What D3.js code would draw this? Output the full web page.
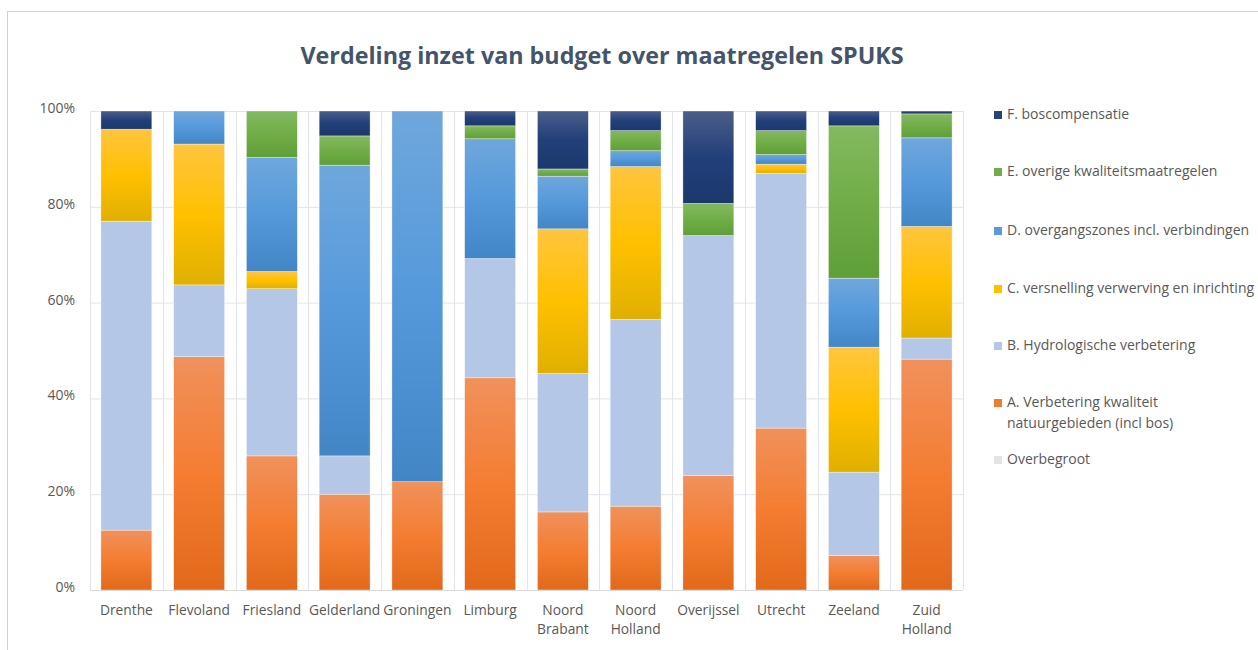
<!DOCTYPE html>
<html>
<head>
<meta charset="utf-8">
<script src="https://cdn.jsdelivr.net/npm/d3@7"></script>
<style>
  body { margin: 0; background: #fff; }
  svg text { font-family: "Open Sans", "Noto Sans", sans-serif; }
</style>
</head>
<body>
<svg id="chart" width="1258" height="650"></svg>
<script>
const categories = ["Drenthe", "Flevoland", "Friesland", "Gelderland", "Groningen", "Limburg",
  "Noord Brabant", "Noord Holland", "Overijssel", "Utrecht", "Zeeland", "Zuid Holland"];
const seriesKeys = ["A", "B", "C", "D", "E", "F", "O"];
const seriesLabels = {
  A: "A. Verbetering kwaliteit natuurgebieden (incl bos)",
  B: "B. Hydrologische verbetering",
  C: "C. versnelling verwerving en inrichting",
  D: "D. overgangszones incl. verbindingen",
  E: "E. overige kwaliteitsmaatregelen",
  F: "F. boscompensatie",
  O: "Overbegroot"
};
// percentages
const seriesA = [12.5, 48.7, 28.0, 20.0, 22.6, 44.3, 16.3, 17.5, 23.9, 33.8, 7.2, 48.2];
const seriesB = [64.5, 15.0, 34.9, 8.0, 0, 24.9, 28.9, 39.0, 50.1, 53.2, 17.4, 4.4];
const seriesC = [19.2, 29.4, 3.6, 0, 0, 0, 30.2, 31.9, 0, 1.9, 26.1, 23.3];
const seriesD = [0, 6.9, 23.8, 60.7, 77.4, 25.0, 11.0, 3.3, 0, 2.0, 14.4, 18.5];
const seriesE = [0, 0, 9.7, 6.1, 0, 2.7, 1.5, 4.2, 6.7, 5.0, 31.8, 5.0];
const seriesF = [3.8, 0, 0, 5.2, 0, 3.1, 12.1, 4.1, 19.3, 4.1, 3.1, 0.6];
const seriesO = [0, 0, 0, 0, 0, 0, 0, 0, 0, 0, 0, 0];
const yTicks = [0, 20, 40, 60, 80, 100];
const legendOrder = ["F", "E", "D", "C", "B", "A", "O"];

const rows = categories.map((c, i) => ({
  cat: c, A: seriesA[i], B: seriesB[i], C: seriesC[i], D: seriesD[i],
  E: seriesE[i], F: seriesF[i], O: seriesO[i]
}));

const svg = d3.select("#chart");
const W = 1258, H = 650;
const plot = { left: 90, right: 963, top: 111, bottom: 590 };

// gradients
const grads = {
  A: ["#f0915c", "#f47d32", "#e2691a"],
  B: ["#b4c7e7", "#b4c7e7", "#b4c7e7"],
  C: ["#ffc53f", "#ffc000", "#e0b000"],
  D: ["#6fa7dc", "#5599db", "#4286c6"],
  E: ["#83b960", "#70ad47", "#5f9f38"],
  F: ["#4b5e89", "#223f7a", "#1c386c"],
  O: ["#e3e3e3", "#e3e3e3", "#e3e3e3"]
};
const legendColor = { A: "#ed7d31", B: "#b4c7e7", C: "#ffc000", D: "#5b9bd5", E: "#70ad47", F: "#264478", O: "#e3e3e3" };
const defs = svg.append("defs");
seriesKeys.forEach(k => {
  const g = defs.append("linearGradient").attr("id", "g" + k)
    .attr("x1", 0).attr("y1", 0).attr("x2", 0).attr("y2", 1);
  g.append("stop").attr("offset", "0%").attr("stop-color", grads[k][0]);
  g.append("stop").attr("offset", "50%").attr("stop-color", grads[k][1]);
  g.append("stop").attr("offset", "100%").attr("stop-color", grads[k][2]);
});

// chart frame
svg.append("rect").attr("x", 7.5).attr("y", 11.5).attr("width", W).attr("height", H)
  .attr("fill", "none").attr("stroke", "#d0d0d0");

// title
svg.append("text").attr("x", 602).attr("y", 64).attr("text-anchor", "middle")
  .attr("font-size", 23.3).attr("font-weight", "bold").attr("fill", "#44546a")
  .text("Verdeling inzet van budget over maatregelen SPUKS");

const x = d3.scaleBand().domain(categories).range([plot.left, plot.right])
  .paddingInner(0.3).paddingOuter(0.15);
const y = d3.scaleLinear().domain([0, 100]).range([plot.bottom, plot.top]);

// horizontal gridlines
svg.append("g").selectAll("line").data(yTicks).join("line")
  .attr("x1", plot.left).attr("x2", plot.right)
  .attr("y1", d => y(d) + 0.5).attr("y2", d => y(d) + 0.5)
  .attr("stroke", "#e1e4ea").attr("stroke-width", 1);
// vertical gridlines at category boundaries
const half = (x.step() - x.bandwidth()) / 2;
const vBounds = categories.map(c => x(c) - half).concat([x(categories[categories.length - 1]) + x.bandwidth() + half]);
svg.append("g").selectAll("line").data(vBounds).join("line")
  .attr("x1", d => Math.round(d) + 0.5).attr("x2", d => Math.round(d) + 0.5)
  .attr("y1", plot.top).attr("y2", plot.bottom)
  .attr("stroke", "#e1e4ea").attr("stroke-width", 1);

// y axis labels
const yAxis = d3.axisLeft(y).tickValues(yTicks).tickSize(0).tickPadding(15)
  .tickFormat(d => d + "%");
const gy = svg.append("g").attr("transform", `translate(${plot.left},0)`).call(yAxis);
gy.select(".domain").remove();
gy.selectAll("text").attr("font-size", 14).attr("fill", "#595959")
  .attr("font-family", "'Open Sans', sans-serif").attr("dy", "0.1em");

// bars
const stack = d3.stack().keys(seriesKeys);
const layers = stack(rows);
svg.append("g").selectAll("g").data(layers).join("g")
  .attr("fill", d => `url(#g${d.key})`)
  .selectAll("rect").data(d => d.filter(s => s[1] - s[0] > 0)).join("rect")
  .attr("x", d => x(d.data.cat))
  .attr("width", x.bandwidth())
  .attr("y", d => y(d[1]))
  .attr("height", d => y(d[0]) - y(d[1]))
  .attr("stroke", "rgba(255,255,255,0.6)").attr("stroke-width", 0.6);

// x axis line
svg.append("line").attr("x1", plot.left).attr("x2", plot.right)
  .attr("y1", plot.bottom + 0.5).attr("y2", plot.bottom + 0.5)
  .attr("stroke", "#d9d9d9");

// x labels (wrapped)
const xAxis = d3.axisBottom(x).tickSize(0).tickPadding(0);
const gx = svg.append("g").attr("transform", `translate(0,${plot.bottom})`).call(xAxis);
gx.select(".domain").remove();
gx.selectAll("text").each(function(d) {
  const t = d3.select(this);
  t.text(null).attr("y", 0).attr("dy", null).attr("font-size", 13.8).attr("fill", "#595959")
    .attr("font-family", "'Open Sans', sans-serif");
  const parts = d.split(" ");
  parts.forEach((p, i) => {
    t.append("tspan").attr("x", 0).attr("y", 25 + i * 19).text(p);
  });
});

// legend
const legY = { F: 114, E: 171, D: 230, C: 288, B: 345, A: 402, O: 459 };
const lg = svg.append("g");
legendOrder.forEach(k => {
  const g = lg.append("g").attr("transform", `translate(994,${legY[k]})`);
  g.append("rect").attr("x", 0).attr("y", -3).attr("width", 8).attr("height", 8)
    .attr("fill", legendColor[k]);
  const lines = k === "A" ? ["A. Verbetering kwaliteit", "natuurgebieden (incl bos)"] : [seriesLabels[k]];
  lines.forEach((ln, i) => {
    g.append("text").attr("x", 13).attr("y", 5 + i * 21).attr("font-size", 14)
      .attr("fill", "#595959").text(ln);
  });
});
</script>
</body>
</html>
